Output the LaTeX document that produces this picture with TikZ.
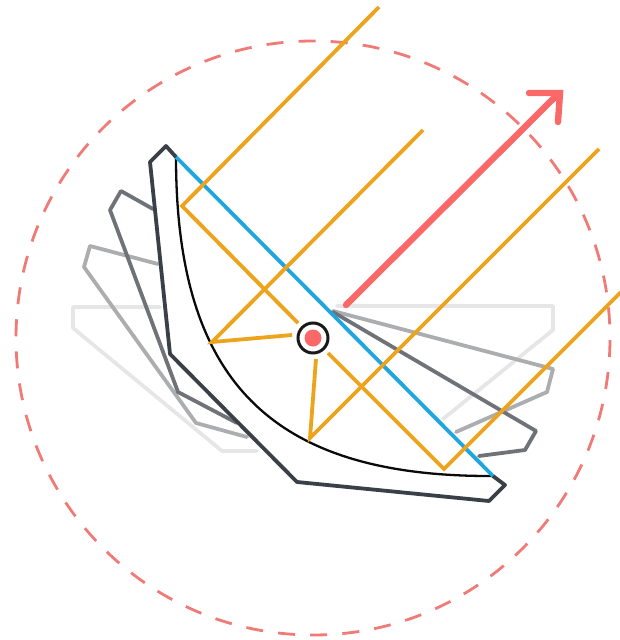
\documentclass[tikz,border=0pt]{standalone}
\usetikzlibrary{arrows.meta}
\definecolor{dishdark}{HTML}{3A4047}
\definecolor{dishmid}{HTML}{6F7378}
\definecolor{dishlight}{HTML}{ABADAF}
\definecolor{dishpale}{HTML}{E6E6E6}
\definecolor{ray}{HTML}{EDA31C}
\definecolor{axisblue}{HTML}{1FA6DE}
\definecolor{sun}{HTML}{FA6868}
\definecolor{sundash}{HTML}{F07A75}
\tikzset{
  outline/.style={line width=3.8pt,line join=round,line cap=round},
  rayline/.style={draw=ray,line width=3.8pt,line join=miter},
}
\begin{document}
\begin{tikzpicture}[x=1pt,y=-1pt]
\useasboundingbox (0,0) rectangle (620,640);
\clip (0,0) rectangle (620,640);
% dashed orbit
\draw[sundash,line width=2.8pt,dash pattern=on 17pt off 15.17pt,dash phase=30.17pt] (313,338) circle[radius=297];
% faded dish positions
\draw[outline,dishpale] (160,307) -- (73,307) -- (73,328) -- (222,451) -- (257,451);
\draw[outline,dishpale] (337,306) -- (553,306) -- (553,330) -- (443,419);
\draw[outline,dishlight] (158,264) -- (90,246) -- (84,267) -- (196,423) -- (247,437);
\draw[outline,dishlight] (333,311) -- (553,369) -- (547,392) -- (456,432);
\draw[outline,dishmid] (153,209) -- (121,191) -- (110,210) -- (178,392) -- (237,423);
\draw[outline,dishmid] (333,312) -- (536,431) -- (525,450) -- (479,456);
% main dish
\draw[outline,dishdark] (176,157) -- (166,146) -- (150,162) -- (170,354) -- (297,482) -- (489,501) -- (505,485) -- (493,476);
\draw[black!85!dishdark,line width=2.3pt] (176,157) .. controls (176,380) and (270,477) .. (493,476);
% blue aperture
\draw[axisblue,line width=3.8pt] (176,157) -- (493,476);
% rays
\draw[rayline] (379,7) -- (182,206) -- (298,323);
\draw[rayline] (328,353) -- (444,469) -- (626,287);
\draw[rayline] (423,130) -- (212,342) -- (292,335);
\draw[rayline] (599,149) -- (310,438) -- (316,359);
% sun arrow
\draw[sun,line width=6.4pt,line cap=round] (346,305) -- (558,94);
\draw[sun,line width=6.4pt,line cap=round,line join=miter] (529,93) -- (560,93) -- (558,122);
% receiver
\node (receiver) at (313,338) [circle,draw=black!90,line width=3pt,fill=white,minimum size=30pt,inner sep=0pt] {};
\node at (receiver) [circle,fill=sun,minimum size=17pt,inner sep=0pt] {};
\end{tikzpicture}
\end{document}
